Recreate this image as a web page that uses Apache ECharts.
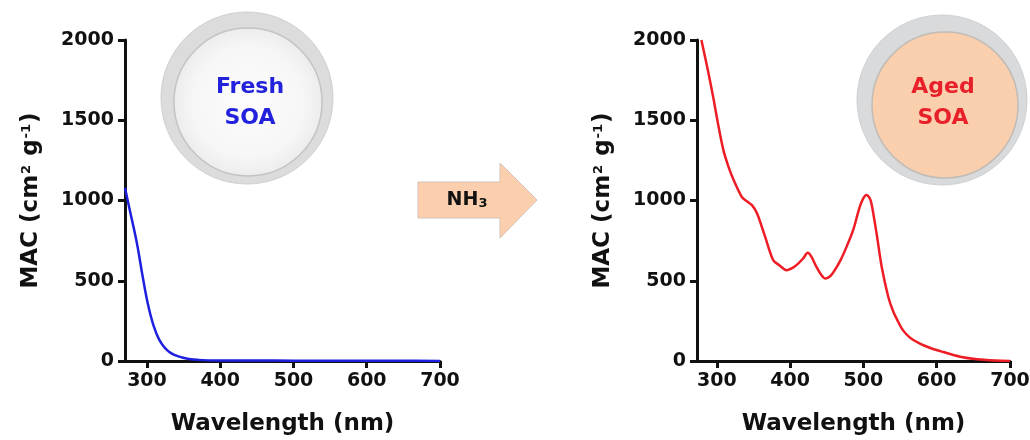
<!DOCTYPE html>
<html>
<head>
<meta charset="utf-8">
<script src="https://cdn.jsdelivr.net/npm/echarts@6/dist/echarts.min.js"></script>
<style>html,body{margin:0;padding:0;background:#fff;}#c{width:1030px;height:440px;}</style>
</head>
<body>
<div id="c"></div>
<script>
// ---- data ----
var xTicks = [300, 400, 500, 600, 700];
var freshWl  = [270, 277, 286, 294, 301, 308, 317, 330, 348, 370, 400, 450, 500, 550, 600, 650, 700];
var freshMac = [1080, 930, 740, 530, 360, 235, 130, 58, 22, 7, 3, 3, 2, 2, 1, 1, 0];
var agedWl  = [279, 287, 295, 302, 309, 316, 323, 334, 341, 348, 355, 366, 377, 385, 395, 404, 411, 418, 424, 429, 436, 442, 448, 455, 461, 469, 477, 486, 495, 500, 504, 508, 511, 518, 525, 534, 541, 546, 552, 559, 566, 574, 582, 595, 609, 632, 655, 680, 700];
var agedMac = [2000, 1830, 1646, 1470, 1314, 1210, 1127, 1023, 995, 971, 919, 773, 628, 598, 566, 582, 607, 640, 674, 650, 586, 540, 514, 530, 566, 630, 711, 815, 960, 1015, 1035, 1020, 981, 794, 586, 399, 305, 258, 205, 165, 137, 116, 98, 75, 56, 27, 11, 3, 0];

function pairs(xs, ys) { return xs.map(function (x, i) { return [x, ys[i]]; }); }

var FONT = 'DejaVu Sans';
var axisColor = '#111';

function xAx(gi, min) {
  return {
    type: 'value', gridIndex: gi, min: min, max: 700,
    name: 'Wavelength (nm)', nameLocation: 'middle', nameGap: 52,
    nameTextStyle: { fontFamily: FONT, fontWeight: 'bold', fontSize: 23, color: '#111' },
    axisLine: { show: true, onZero: false, lineStyle: { color: axisColor, width: 3 } },
    axisTick: { show: true, inside: false, length: 7, customValues: xTicks, lineStyle: { color: axisColor, width: 3 } },
    axisLabel: { customValues: xTicks, margin: 11, fontFamily: FONT, fontWeight: 'bold', fontSize: 19, color: '#111',
      formatter: function (v) { return String(v); } },
    splitLine: { show: false }
  };
}
function yAx(gi) {
  return {
    type: 'value', gridIndex: gi, min: 0, max: 2000, interval: 500,
    name: 'MAC (cm{s|2} g{s|-1})', nameLocation: 'middle', nameGap: 82,
    nameTextStyle: { fontFamily: FONT, fontWeight: 'bold', fontSize: 23, color: '#111',
      rich: { s: { fontFamily: FONT, fontWeight: 'bold', fontSize: 13, color: '#111', verticalAlign: 'top', padding: [0, 1, 8, 1] } } },
    axisLine: { show: true, lineStyle: { color: axisColor, width: 3 } },
    axisTick: { show: true, inside: false, length: 7, lineStyle: { color: axisColor, width: 3 } },
    axisLabel: { margin: 11, fontFamily: FONT, fontWeight: 'bold', fontSize: 19, color: '#111',
      formatter: function (v) { return String(v); } },
    splitLine: { show: false }
  };
}

var chart = echarts.init(document.getElementById('c'), null, { renderer: 'canvas' });
chart.setOption({
  backgroundColor: '#fff',
  animation: false,
  grid: [
    { left: 125, top: 40, width: 315, height: 321, containLabel: false, outerBoundsMode: 'none' },
    { left: 697, top: 40, width: 313, height: 321, containLabel: false, outerBoundsMode: 'none' }
  ],
  xAxis: [xAx(0, 270), xAx(1, 273)],
  yAxis: [yAx(0), yAx(1)],
  series: [
    { type: 'line', xAxisIndex: 0, yAxisIndex: 0, data: pairs(freshWl, freshMac), smooth: 0.4, showSymbol: false,
      lineStyle: { color: '#1f1fe0', width: 2.5 }, z: 3 },
    { type: 'line', xAxisIndex: 1, yAxisIndex: 1, data: pairs(agedWl, agedMac), smooth: 0.3, showSymbol: false,
      lineStyle: { color: '#ee1c25', width: 2.5 }, z: 3 }
  ],
  graphic: [
    // Fresh SOA particle
    { type: 'circle', shape: { cx: 247, cy: 98, r: 86 }, style: { fill: '#dcdcdc', stroke: '#cfcfcf', lineWidth: 1 }, z: 1 },
    { type: 'circle', shape: { cx: 248, cy: 102, r: 74 },
      style: { fill: { type: 'radial', x: 0.5, y: 0.5, r: 0.5, colorStops: [{ offset: 0, color: '#fdfdfd' }, { offset: 0.75, color: '#f6f6f6' }, { offset: 1, color: '#ececec' }] },
        stroke: '#c4c4c4', lineWidth: 1.5 }, z: 2 },
    { type: 'text', x: 250, y: 87, z: 5, style: { text: 'Fresh', fill: '#2222dd', font: 'bold 22px "DejaVu Sans"', align: 'center', verticalAlign: 'middle' } },
    { type: 'text', x: 250, y: 118, z: 5, style: { text: 'SOA', fill: '#2222dd', font: 'bold 22px "DejaVu Sans"', align: 'center', verticalAlign: 'middle' } },
    // Aged SOA particle
    { type: 'circle', shape: { cx: 942, cy: 100, r: 85 }, style: { fill: '#d8dadc', stroke: '#cdd0d2', lineWidth: 1 }, z: 1 },
    { type: 'circle', shape: { cx: 945, cy: 105, r: 73 }, style: { fill: '#f9cfae', stroke: '#c2bcb6', lineWidth: 1.5 }, z: 2 },
    { type: 'text', x: 943, y: 87, z: 5, style: { text: 'Aged', fill: '#e8202a', font: 'bold 22px "DejaVu Sans"', align: 'center', verticalAlign: 'middle' } },
    { type: 'text', x: 943, y: 118, z: 5, style: { text: 'SOA', fill: '#e8202a', font: 'bold 22px "DejaVu Sans"', align: 'center', verticalAlign: 'middle' } },
    // NH3 arrow
    { type: 'polygon', z: 1,
      shape: { points: [[418, 182], [500, 182], [500, 163], [537, 200], [500, 238], [500, 218], [418, 218]] },
      style: { fill: '#fbcfae', stroke: '#d6c2b4', lineWidth: 1 } },
    { type: 'text', x: 467, y: 200, z: 5,
      style: { text: '{b|NH}{s|3}', align: 'center', verticalAlign: 'middle',
        rich: { b: { fontFamily: FONT, fontWeight: 'bold', fontSize: 19, fill: '#111', color: '#111' },
                s: { fontFamily: FONT, fontWeight: 'bold', fontSize: 13, fill: '#111', color: '#111', verticalAlign: 'bottom', padding: [8, 0, 0, 0] } } } }
  ]
});
</script>
</body>
</html>
